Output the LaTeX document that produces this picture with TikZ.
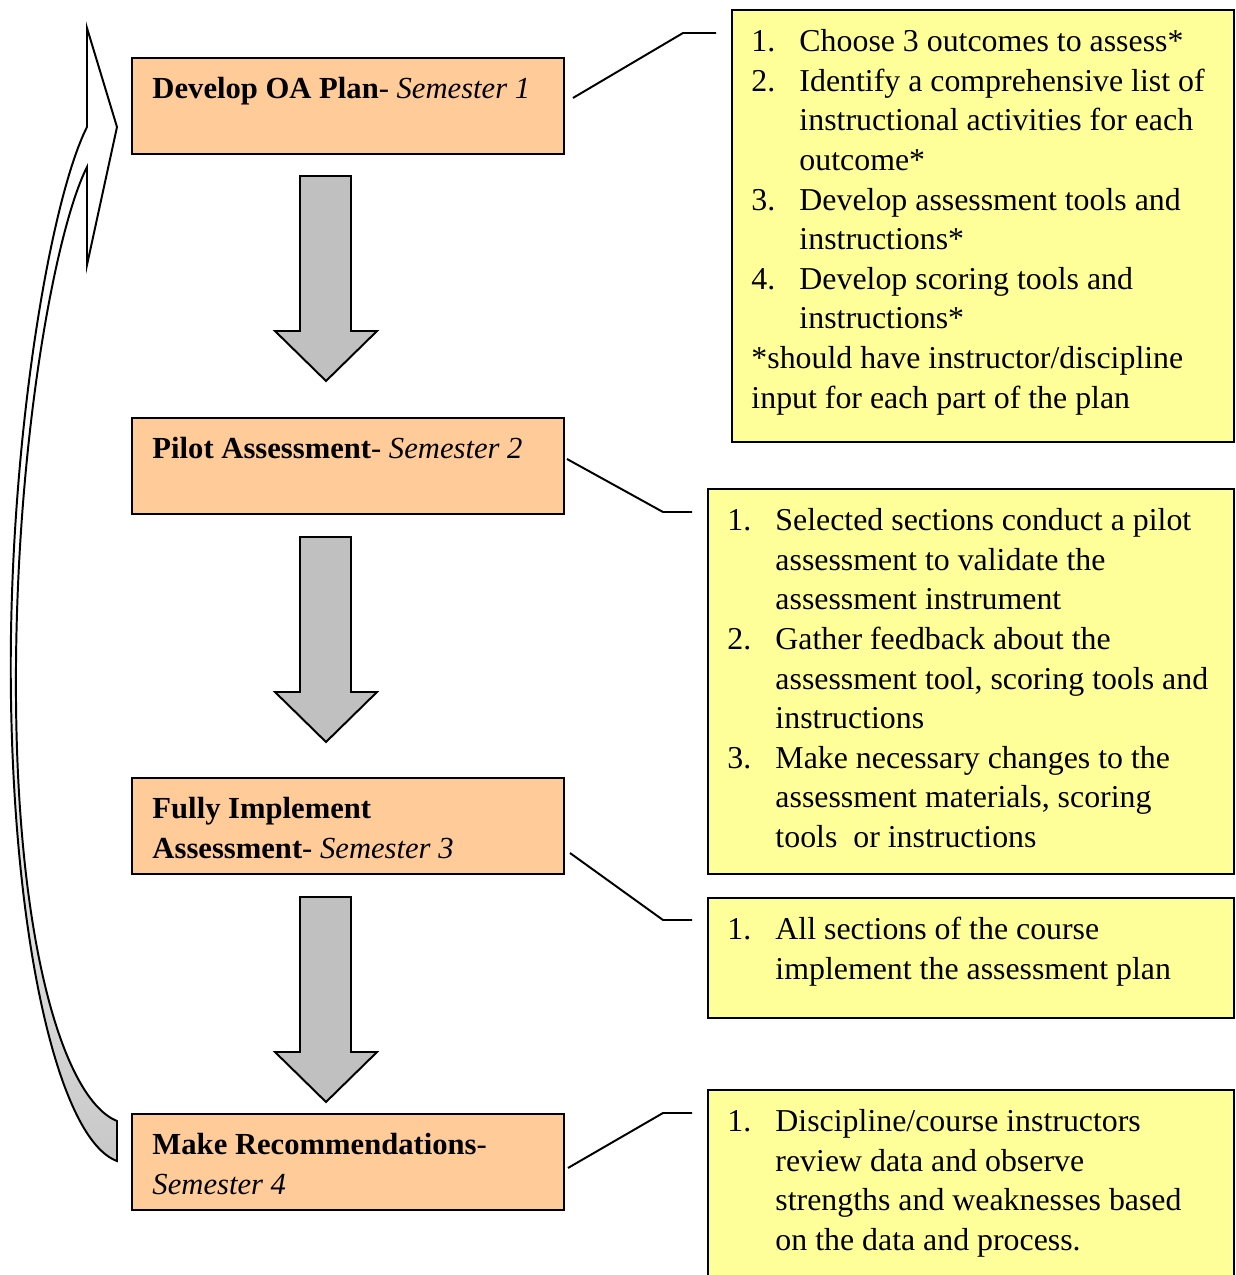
\documentclass[tikz,border=0pt]{standalone}
\usepackage{fontspec}
\setmainfont{Liberation Serif}
\usetikzlibrary{calc}
\definecolor{phasefill}{HTML}{FFCC99}
\definecolor{notefill}{HTML}{FFFF99}
\definecolor{arrowfill}{HTML}{C0C0C0}
\definecolor{loopfill}{HTML}{C8C8C8}
\newlength{\pix}\setlength{\pix}{0.01435cm}
\newcommand{\itemno}[1]{\makebox[48\pix][l]{#1}}
\newcommand{\indentln}{\hspace*{48\pix}}
\tikzstyle{phase} = [rectangle, draw=black, line width=0.8pt, fill=phasefill, minimum width=432\pix, minimum height=96\pix, anchor=north west]
\tikzstyle{note} = [rectangle, draw=black, line width=0.8pt, fill=notefill, minimum width=526\pix, anchor=north west]
\tikzstyle{words} = [inner sep=0pt, anchor=north west, align=left, font=\fontsize{13}{16.17}\selectfont]
\tikzstyle{phasewords} = [words, font=\fontsize{12.5}{16.17}\selectfont]
\tikzstyle{callout} = [line width=0.8pt]
\tikzstyle{blockarrow} = [draw=black, line width=0.8pt, fill=arrowfill]

\begin{document}
\begin{tikzpicture}[x=0.01435cm, y=-0.01435cm]
\useasboundingbox (0,0) rectangle (1235,1275);
% semesters
\node (p1) [phase] at (131,57) {};
\node (p2) [phase] at (131,417) {};
\node (p3) [phase] at (131,777) {};
\node (p4) [phase] at (131,1113) {};
\node (t1) [phasewords] at ([shift={(21,20)}]p1.north west) {\textbf{Develop OA Plan}- \textit{Semester 1}};
\node (t2) [phasewords] at ([shift={(21,20)}]p2.north west) {\textbf{Pilot Assessment}- \textit{Semester 2}};
\node (t3) [phasewords] at ([shift={(21,20)}]p3.north west) {\textbf{Fully Implement}\\ \textbf{Assessment}- \textit{Semester 3}};
\node (t4) [phasewords] at ([shift={(21,20)}]p4.north west) {\textbf{Make Recommendations}-\\ \textit{Semester 4}};
% down arrows
\draw[blockarrow] (300,176) -- (351,176) -- (351,331) -- (377,331) -- (326,381) -- (275,331) -- (300,331) -- cycle;
\draw[blockarrow] (300,537) -- (351,537) -- (351,692) -- (377,692) -- (326,742) -- (275,692) -- (300,692) -- cycle;
\draw[blockarrow] (300,897) -- (351,897) -- (351,1052) -- (377,1052) -- (326,1102) -- (275,1052) -- (300,1052) -- cycle;
% loop back
\shadedraw[top color=white, bottom color=loopfill, middle color=white, line width=0.8pt] (117,1121) -- (117,1161) .. controls (60,1140) and (15,950) .. (11,700) .. controls (7,450) and (50,200) .. (87,127) -- (87,28) -- (117,127) -- (87,265) -- (87,167) .. controls (55,230) and (14,450) .. (16,700) .. controls (18,950) and (65,1100) .. (117,1121) -- cycle;
% notes
\node (n1) [note, minimum width=502\pix, minimum height=432\pix] at (731,9) {};
\node (n2) [note, minimum height=385\pix] at (707,488) {};
\node (n3) [note, minimum height=120\pix] at (707,897) {};
\node (n4) [note, minimum height=220\pix] at (707,1089) {};
\node (m1) [words] at ([shift={(20,20)}]n1.north west) {\itemno{1.}Choose 3 outcomes to assess*\\
\itemno{2.}Identify a comprehensive list of\\
\indentln instructional activities for each\\
\indentln outcome*\\
\itemno{3.}Develop assessment tools and\\
\indentln instructions*\\
\itemno{4.}Develop scoring tools and\\
\indentln instructions*\\
*should have instructor/discipline\\
input for each part of the plan};
\node (m2) [words] at ([shift={(20,20)}]n2.north west) {\itemno{1.}Selected sections conduct a pilot\\
\indentln assessment to validate the\\
\indentln assessment instrument\\
\itemno{2.}Gather feedback about the\\
\indentln assessment tool, scoring tools and\\
\indentln instructions\\
\itemno{3.}Make necessary changes to the\\
\indentln assessment materials, scoring\\
\indentln tools\ \ or instructions};
\node (m3) [words] at ([shift={(20,20)}]n3.north west) {\itemno{1.}All sections of the course\\
\indentln implement the assessment plan};
\node (m4) [words] at ([shift={(20,20)}]n4.north west) {\itemno{1.}Discipline/course instructors\\
\indentln review data and observe\\
\indentln strengths and weaknesses based\\
\indentln on the data and process.};
% callouts
\coordinate (k1) at (683,33);
\coordinate (e1) at (716,33);
\coordinate (k2) at (663,512);
\coordinate (e2) at (692,512);
\coordinate (k3) at (663,920);
\coordinate (e3) at (692,920);
\coordinate (k4) at (663,1113);
\coordinate (e4) at (692,1113);
\draw[callout] ([shift={(8,-8)}]p1.east) -- (k1) -- (e1);
\draw[callout] ([shift={(2,-7)}]p2.east) -- (k2) -- (e2);
\draw[callout] ([shift={(5,27)}]p3.east) -- (k3) -- (e3);
\draw[callout] ([shift={(3,6)}]p4.east) -- (k4) -- (e4);
\end{tikzpicture}
\end{document}
